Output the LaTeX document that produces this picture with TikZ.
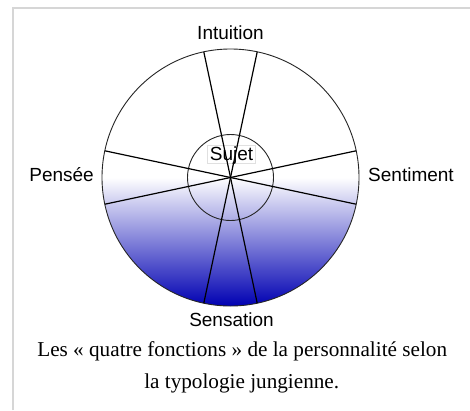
\documentclass[tikz,border=0pt]{standalone}
\usepackage{fontspec}
\setmainfont{Liberation Serif}
\newfontfamily\lsans{Liberation Sans}
\definecolor{deepblue}{RGB}{0,0,178}
\definecolor{framegray}{RGB}{214,214,214}
\begin{document}
\begin{tikzpicture}[x=1pt,y=-1pt,
  lbl/.style={font=\lsans\fontsize{19}{19}\selectfont, inner sep=0pt},
  captext/.style={font=\fontsize{21.2}{21.2}\selectfont, inner sep=0pt},
  ring/.style={circle, draw=black!85, line width=0.9pt, inner sep=0pt, outer sep=0pt},
  diam/.style={draw=black, line width=1.2pt}]
\useasboundingbox (0,0) rectangle (470,410);
\fill[white] (0,0) rectangle (470,410);
\draw[framegray, line width=2pt] (13,410) -- (13,8) -- (470,8);
\coordinate (c) at (230.5,177.5);
\node[ring, minimum size=257pt, shade, top color=white, bottom color=deepblue, middle color=white] (outer) at (c) {};
\node[ring, minimum size=86pt] (inner) at (c) {};
\node[draw=black!12, line width=0.5pt, minimum width=48pt, minimum height=18pt, inner sep=0pt] (sbox) at (231.5,154) {};
\draw[diam] (outer.78) -- (outer.258);
\draw[diam] (outer.102) -- (outer.282);
\draw[diam] (outer.12) -- (outer.192);
\draw[diam] (outer.168) -- (outer.348);
\node[lbl, anchor=base] (sujet) at (231.5,160.5) {Sujet};
\node[lbl, anchor=base] (intu) at (230.5,39.3) {Intuition};
\node[lbl, anchor=base east] (pens) at (94,181.5) {Pensée};
\node[lbl, anchor=base west] (sent) at (368,181.5) {Sentiment};
\node[lbl, anchor=base] (sens) at (231.5,326) {Sensation};
\node[captext, anchor=base] (cap1) at (242.2,356.7) {Les « quatre fonctions » de la personnalité selon};
\node[captext, anchor=base] (cap2) at (241.7,388) {la typologie jungienne.};
\end{tikzpicture}
\end{document}
